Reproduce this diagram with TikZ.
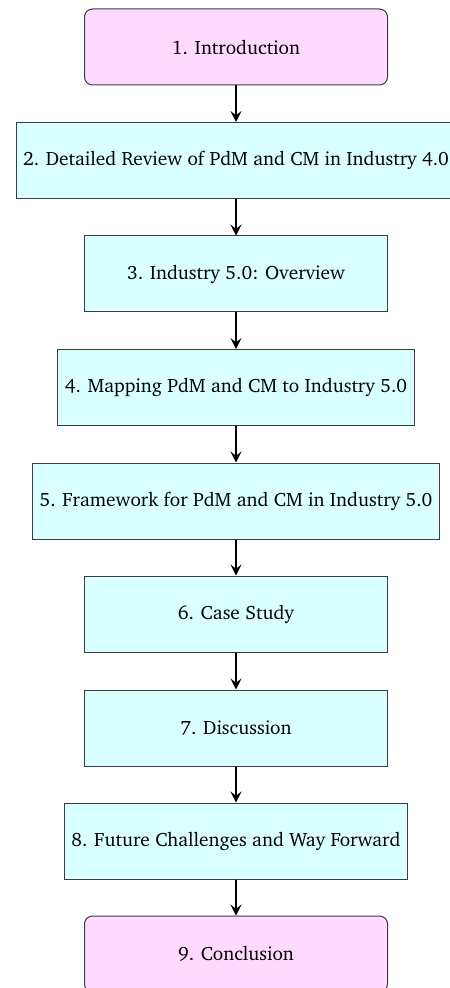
\documentclass[tikz,border=0pt]{standalone}
\usepackage[T1]{fontenc}
\usepackage{charter}
\usetikzlibrary{arrows.meta}
\definecolor{stepfill}{RGB}{217,255,255}
\definecolor{endfill}{RGB}{255,217,255}
\definecolor{boxline}{RGB}{60,60,60}
\tikzset{
  stepbox/.style={draw=boxline, line width=0.5pt, fill=stepfill,
    minimum width=151.5pt, minimum height=38pt, inner sep=3.5pt,
    font=\fontsize{9.66pt}{11.6pt}\selectfont},
  endbox/.style={stepbox, fill=endfill, rounded corners=4pt},
  flow/.style={-{Stealth[length=5.5pt,width=5.5pt,inset=2.2pt]}, line width=0.9pt, black}
}
\begin{document}
\begin{tikzpicture}[x=0.5pt, y=-0.5pt]
  \useasboundingbox (0,0) rectangle (449,988);
  \node[endbox]  (s1) at (236,47)    {1. Introduction};
  \node[stepbox] (s2) at (236,160.5) {2. Detailed Review of PdM and CM in Industry 4.0};
  \node[stepbox] (s3) at (236,274)   {3. Industry 5.0: Overview};
  \node[stepbox] (s4) at (236,387.5) {4. Mapping PdM and CM to Industry 5.0};
  \node[stepbox] (s5) at (236,501)   {5. Framework for PdM and CM in Industry 5.0};
  \node[stepbox] (s6) at (236,614)   {6. Case Study};
  \node[stepbox] (s7) at (236,728)   {7. Discussion};
  \node[stepbox] (s8) at (236,841)   {8. Future Challenges and Way Forward};
  \node[endbox]  (s9) at (236,954)   {9. Conclusion};
  \foreach \a/\b in {s1/s2, s2/s3, s3/s4, s4/s5, s5/s6, s6/s7, s7/s8, s8/s9}
    \draw[flow] (\a) -- (\b);
\end{tikzpicture}
\end{document}
